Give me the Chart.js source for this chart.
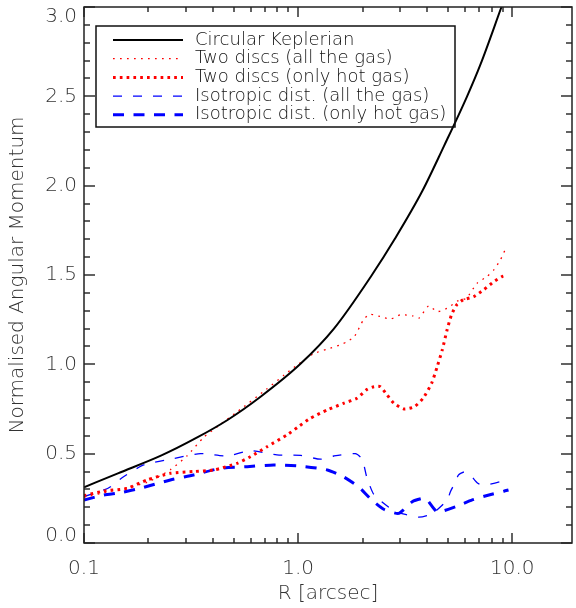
<!DOCTYPE html>
<html>
<head>
<meta charset="utf-8">
<script src="https://cdn.jsdelivr.net/npm/chart.js@4.4.1/dist/chart.umd.min.js"></script>
<style>
  html, body { margin: 0; padding: 0; background: #fff; }
  #wrap { width: 576px; height: 608px; }
</style>
</head>
<body>
<div id="wrap"><canvas id="chart" width="576" height="608"></canvas></div>
<script>
// radii [arcsec] and normalised angular momentum
const kepR = [0.1, 0.144, 0.23, 0.331, 0.47, 0.67, 1.02, 1.47, 2.21, 2.82, 3.8, 4.79, 6.15, 7.11, 8.9]
const kepL = [0.312, 0.39, 0.49, 0.585, 0.69, 0.82, 1.0, 1.2, 1.5, 1.7, 1.97, 2.22, 2.5, 2.68, 3.0]

const discAllR = [0.1, 0.133, 0.159, 0.198, 0.253, 0.304, 0.361, 0.44, 0.52, 0.71, 0.86, 1.0, 1.18, 1.37, 1.58, 1.69, 1.83, 2.02, 2.16, 2.48, 2.71, 3.0, 3.42, 3.66, 4.07, 4.46, 4.96, 5.6, 6.1, 6.85, 7.6, 8.2, 8.8, 9.25]
const discAllL = [0.255, 0.29, 0.31, 0.34, 0.41, 0.49, 0.59, 0.67, 0.735, 0.86, 0.94, 1.0, 1.06, 1.085, 1.11, 1.127, 1.155, 1.25, 1.28, 1.264, 1.254, 1.277, 1.271, 1.258, 1.327, 1.295, 1.314, 1.357, 1.37, 1.454, 1.491, 1.529, 1.585, 1.64]

const discHotR = [0.1, 0.123, 0.159, 0.197, 0.253, 0.325, 0.404, 0.519, 0.598, 0.716, 0.887, 1.0, 1.14, 1.37, 1.63, 1.88, 2.1, 2.26, 2.42, 2.6, 2.8, 3.12, 3.49, 3.83, 4.2, 4.46, 4.71, 4.96, 5.2, 5.5, 5.9, 6.6, 7.35, 8.2, 8.95, 9.5]
const discHotL = [0.265, 0.29, 0.306, 0.353, 0.39, 0.4, 0.409, 0.446, 0.483, 0.539, 0.605, 0.65, 0.698, 0.745, 0.782, 0.81, 0.86, 0.875, 0.875, 0.829, 0.782, 0.75, 0.763, 0.81, 0.894, 0.987, 1.081, 1.193, 1.277, 1.333, 1.361, 1.379, 1.417, 1.463, 1.491, 1.5]

const isoAllR = [0.1, 0.124, 0.133, 0.153, 0.19, 0.253, 0.35, 0.466, 0.598, 0.796, 1.03, 1.27, 1.47, 1.85, 1.99, 2.09, 2.26, 2.65, 2.95, 3.17, 3.65, 4.03, 4.4, 4.97, 5.14, 5.43, 5.6, 5.9, 6.27, 6.9, 7.4, 8.2, 8.8, 9.25]
const isoAllL = [0.26, 0.297, 0.315, 0.371, 0.437, 0.469, 0.5, 0.487, 0.517, 0.493, 0.49, 0.469, 0.487, 0.5, 0.47, 0.37, 0.27, 0.2, 0.17, 0.16, 0.145, 0.155, 0.18, 0.241, 0.287, 0.343, 0.38, 0.396, 0.39, 0.334, 0.325, 0.334, 0.343, 0.35]

const isoHotR = [0.1, 0.124, 0.148, 0.183, 0.253, 0.325, 0.434, 0.578, 0.769, 1.03, 1.37, 1.63, 1.92, 2.18, 2.51, 2.95, 3.41, 3.83, 4.01, 4.46, 5.43, 6.5, 7.78, 9.14, 9.6]
const isoHotL = [0.241, 0.269, 0.282, 0.306, 0.353, 0.381, 0.418, 0.427, 0.437, 0.43, 0.409, 0.37, 0.313, 0.247, 0.189, 0.166, 0.231, 0.25, 0.24, 0.175, 0.203, 0.241, 0.269, 0.29, 0.297]

const labels = [
  'Circular Keplerian',
  'Two discs (all the gas)',
  'Two discs (only hot gas)',
  'Isotropic dist. (all the gas)',
  'Isotropic dist. (only hot gas)',
]

const xTicks = [0.1, 0.2, 0.3, 0.4, 0.5, 0.6, 0.7, 0.8, 0.9, 1, 2, 3, 4, 5, 6, 7, 8, 9, 10]
const xLabelTicks = [0.1, 1, 10]
const yTicks = Array.from({ length: 31 }, (_, i) => i / 10)
const yLabelTicks = [0, 0.5, 1, 1.5, 2, 2.5, 3]

const font = { family: "'DejaVu Sans', sans-serif", size: 20, weight: 200 }
const textColor = '#333'

const toPoints = (xs, ys) => xs.map((x, i) => ({ x, y: ys[i] }))
const isIn = (arr, v) => arr.some(a => Math.abs(a - v) < 1e-6)

const series = [
  { r: kepR, l: kepL, color: '#000', width: 2, dash: [], smooth: true },
  { r: discAllR, l: discAllL, color: '#ff0000', width: 1.3, dash: [1.7, 5.3] },
  { r: discHotR, l: discHotL, color: '#ff0000', width: 3, dash: [2.7, 4.1] },
  { r: isoAllR, l: isoAllL, color: '#0000ff', width: 1.3, dash: [9, 11] },
  { r: isoHotR, l: isoHotL, color: '#0000ff', width: 3, dash: [11, 9.5] },
]

// IDL keeps the end labels of the y axis inside the frame
const endLabels = {
  id: 'endLabels',
  afterUpdate(chart) {
    const items = chart.scales.y.getLabelItems(chart.chartArea)
    items.forEach(item => {
      if (item.label === '3.0') item.options.translation[1] += 10
      if (item.label === '0.0') item.options.translation[1] -= 7
    })
  }
}

// frame with inward ticks on all four sides
const frameTicks = {
  id: 'frameTicks',
  afterDraw(chart) {
    const { ctx, chartArea: a } = chart
    const x = chart.scales.x
    const y = chart.scales.y
    ctx.save()
    ctx.setLineDash([])
    ctx.strokeStyle = '#222'
    ctx.lineWidth = 1.5
    ctx.strokeRect(a.left, a.top, a.right - a.left, a.bottom - a.top)
    ctx.fillStyle = '#222'
    xTicks.forEach(v => {
      const px = Math.round(x.getPixelForValue(v))
      const len = isIn(xLabelTicks, v) ? 10 : 5
      ctx.fillRect(px - 0.7, a.bottom - len, 1.4, len)
      ctx.fillRect(px - 0.7, a.top, 1.4, len)
    })
    yTicks.forEach(v => {
      const py = Math.round(y.getPixelForValue(v))
      const len = isIn(yLabelTicks, v) ? 11 : 6
      ctx.fillRect(a.left, py - 0.7, len, 1.4)
      ctx.fillRect(a.right - len, py - 0.7, len, 1.4)
    })
    ctx.restore()
  }
}

const boxLegend = {
  id: 'boxLegend',
  afterDraw(chart) {
    const { ctx } = chart
    const box = { left: 96, top: 26, right: 455, bottom: 127 }
    const rowH = 18.7
    ctx.save()
    ctx.strokeStyle = '#111'
    ctx.lineWidth = 1.5
    ctx.strokeRect(box.left, box.top, box.right - box.left, box.bottom - box.top)
    ctx.font = `200 18px ${font.family}`
    ctx.textBaseline = 'middle'
    ctx.fillStyle = '#111'
    chart.data.datasets.forEach((ds, i) => {
      const yy = box.top + 14 + i * rowH
      ctx.beginPath()
      ctx.strokeStyle = ds.borderColor
      ctx.lineWidth = ds.borderWidth
      ctx.setLineDash(ds.borderDash)
      ctx.moveTo(113, yy)
      ctx.lineTo(183, yy)
      ctx.stroke()
      ctx.setLineDash([])
      ctx.fillText(ds.label, 195, yy)
    })
    ctx.restore()
  }
}

new Chart(document.getElementById('chart'), {
  type: 'line',
  data: {
    datasets: series.map((s, i) => ({
      label: labels[i],
      data: toPoints(s.r, s.l),
      borderColor: s.color,
      borderWidth: s.width,
      borderDash: s.dash,
      borderCapStyle: 'butt',
      pointRadius: 0,
      tension: s.smooth ? 0.4 : 0.2,
      cubicInterpolationMode: s.smooth ? 'monotone' : 'default',
      fill: false,
    }))
  },
  options: {
    responsive: false,
    animation: false,
    layout: { padding: { top: 7, right: 4, left: 0, bottom: 0 } },
    plugins: { legend: { display: false }, tooltip: { enabled: false } },
    scales: {
      x: {
        type: 'logarithmic',
        min: 0.1,
        max: 19,
        afterBuildTicks: (scale) => { scale.ticks = xTicks.map(v => ({ value: v })) },
        afterFit: (scale) => {
          scale.height = 65
          scale.paddingLeft = 0
          scale.paddingRight = 0
        },
        border: { display: false },
        grid: { display: false, drawTicks: false },
        ticks: {
          autoSkip: false, maxRotation: 0, minRotation: 0,
          padding: 14, color: textColor, font,
          callback: (v) => isIn(xLabelTicks, v) ? v.toFixed(1) : '',
        },
        title: { display: true, text: 'R [arcsec]', color: textColor, font, padding: { top: 0, bottom: 2 } },
      },
      y: {
        type: 'linear',
        min: 0,
        max: 3,
        afterBuildTicks: (scale) => { scale.ticks = yTicks.map(v => ({ value: v })) },
        afterFit: (scale) => {
          scale.width = 84
          scale.paddingTop = 0
          scale.paddingBottom = 0
        },
        border: { display: false },
        grid: { display: false, drawTicks: false },
        ticks: {
          autoSkip: false, padding: 7, color: textColor, font,
          callback: (v) => isIn(yLabelTicks, v) ? v.toFixed(1) : '',
        },
        title: { display: true, text: 'Normalised Angular Momentum', color: textColor, font, padding: { top: 6, bottom: 0 } },
      },
    },
  },
  plugins: [endLabels, frameTicks, boxLegend],
})
</script>
</body>
</html>
